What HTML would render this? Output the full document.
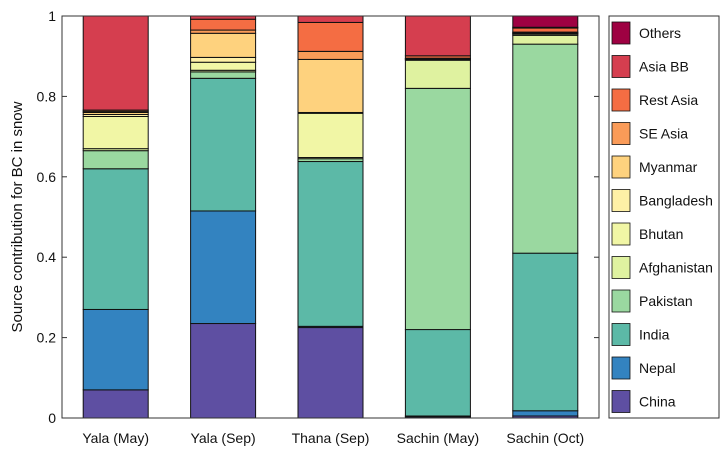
<!DOCTYPE html>
<html><head><meta charset="utf-8"><style>
body{margin:0;background:#fff;font-family:"Liberation Sans",sans-serif;}
</style></head><body>
<svg id="chart" width="726" height="462" xmlns="http://www.w3.org/2000/svg" font-family="Liberation Sans, sans-serif">
<rect width="726" height="462" fill="#fff"/>
<g id="bars"></g>
<rect x="62" y="16" width="537" height="402" fill="none" stroke="#333" stroke-width="1"/>
<g id="axes"></g>
<text transform="translate(22,217) rotate(-90)" text-anchor="middle" font-size="15" fill="#111">Source contribution for BC in snow</text>
<rect x="609" y="16" width="110" height="402" fill="#fff" stroke="#333"/>
<g id="legend"></g>
</svg>
<script>
const categories=["Yala (May)","Yala (Sep)","Thana (Sep)","Sachin (May)","Sachin (Oct)"];
const sources=["China","Nepal","India","Pakistan","Afghanistan","Bhutan","Bangladesh","Myanmar","SE Asia","Rest Asia","Asia BB","Others"];
const colors=["#5e4fa2","#3383c0","#5cb9a7","#9ad8a0","#dff2a0","#f1f6a5","#fef0a6","#fed27e","#fa9b58","#f46d43","#d53e4f","#9e0142"];
const yalaMay=[.07,.20,.35,.045,.005,.08,.005,.005,.003,.003,.234,0];
const yalaSep=[.235,.28,.33,.016,.004,.02,.012,.06,.008,.027,.008,0];
const thanaSep=[.225,.003,.41,.007,.003,.11,.002,.132,.02,.072,.016,0];
const sachinMay=[.003,.002,.215,.6,.07,.002,.001,.001,.001,.006,.099,0];
const sachinOct=[.005,.013,.392,.52,.022,.003,.002,.001,.002,.01,.002,.028];
const yTicks=[0,0.2,0.4,0.6,0.8,1];
const yTickLabels=["0","0.2","0.4","0.6","0.8","1"];
const series=[yalaMay,yalaSep,thanaSep,sachinMay,sachinOct];
const NS="http://www.w3.org/2000/svg";
const X0=62,W=537,Y0=418,H=402,BW=65;
const y=v=>Y0-v*H;
const xc=i=>X0+W*(i+0.5)/categories.length;
function mk(t,a,p){const e=document.createElementNS(NS,t);for(const k in a)e.setAttribute(k,a[k]);p.appendChild(e);return e;}
const bars=document.getElementById('bars'),axes=document.getElementById('axes'),leg=document.getElementById('legend');
series.forEach((vals,i)=>{let c=0;vals.forEach((v,j)=>{if(v<=0)return;
 const r=mk('rect',{x:xc(i)-BW/2,y:y(c+v),width:BW,height:v*H,fill:colors[j],stroke:'#111','stroke-width':1},bars);
 
 
 c+=v;});
 const t=mk('text',{x:xc(i),y:443,'text-anchor':'middle','font-size':14,fill:'#111'},axes);t.textContent=categories[i];
 
 
});
yTicks.forEach((v,i)=>{
 mk('line',{x1:X0,x2:X0+5,y1:y(v),y2:y(v),stroke:'#333'},axes);
 mk('line',{x1:X0+W-5,x2:X0+W,y1:y(v),y2:y(v),stroke:'#333'},axes);
 const t=mk('text',{x:X0-6,y:y(v)+5,'text-anchor':'end','font-size':14,fill:'#111'},axes);t.textContent=yTickLabels[i];
 
 
});
for(let k=sources.length-1;k>=0;k--){const row=sources.length-1-k;const cy=33+row*33.5;
 const g=mk('g',{},leg);
 
 
 mk('rect',{x:612,y:cy-11,width:18,height:22,fill:colors[k],stroke:'#111','stroke-width':0.8},g);
 const t=mk('text',{x:639,y:cy+5,'font-size':14,fill:'#111'},g);t.textContent=sources[k];
}
</script>
</body></html>
